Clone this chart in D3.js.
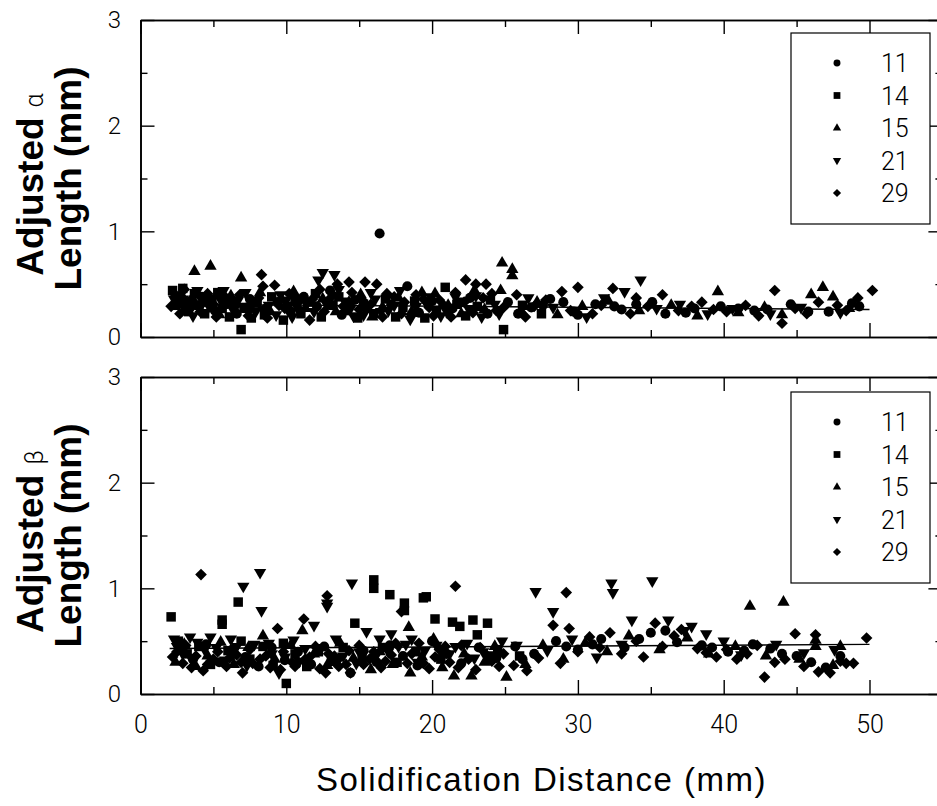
<!DOCTYPE html>
<html>
<head>
<meta charset="utf-8">
<script src="https://d3js.org/d3.v7.min.js"></script>
<style>
  body { margin: 0; background: #fff; }
  svg { display: block; }
  .tick text { font-family: Roboto, "DejaVu Sans", sans-serif; font-weight: 300; fill: #000; }
</style>
</head>
<body>
<div id="chart"></div>
<script>
// series names (legend)
const seriesNames = ['11', '14', '15', '21', '29'];

// x ticks / y ticks
const xMajor = [0, 10, 20, 30, 40, 50];
const xMinor = [5, 15, 25, 35, 45];
const yMajor = [0, 1, 2, 3];
const yMinor = [0.5, 1.5, 2.5];

// --- Adjusted alpha length, [distance, length] ---
const alpha11 = [[2.6,0.34],[3.4,0.28],[4.2,0.38],[5.1,0.25],[5.9,0.31],[6.6,0.22],[7.5,0.36],[8.6,0.27],[9.4,0.33],[10.3,0.24],[11.2,0.38],[12.1,0.29],[13.0,0.44],[13.8,0.21],[14.7,0.35],[15.5,0.27],[16.4,0.98],[17.2,0.31],[18.3,0.48],[19.1,0.23],[20.0,0.34],[21.4,0.27],[22.6,0.37],[23.8,0.22],[25.2,0.33],[25.9,0.22],[26.8,0.28],[27.6,0.30],[28.1,0.36],[29.0,0.33],[29.7,0.24],[30.0,0.21],[31.2,0.31],[32.5,0.29],[33.0,0.26],[34.0,0.31],[35.1,0.33],[36.0,0.22],[37.4,0.23],[38.0,0.27],[39.8,0.29],[41.0,0.27],[42.1,0.25],[43.0,0.26],[44.6,0.31],[45.8,0.24],[47.2,0.24],[48.8,0.32],[49.3,0.29]];
const alpha14 = [[2.2,0.44],[2.5,0.38],[2.4,0.30],[2.9,0.46],[3.1,0.33],[3.3,0.24],[3.7,0.41],[4.0,0.30],[4.4,0.22],[4.9,0.36],[5.3,0.42],[5.6,0.27],[6.1,0.19],[6.4,0.34],[6.9,0.07],[7.1,0.28],[7.6,0.18],[8.0,0.32],[8.5,0.21],[9.0,0.38],[9.8,0.16],[10.1,0.29],[10.6,0.36],[11.0,0.22],[11.5,0.33],[12.0,0.41],[12.4,0.19],[13.2,0.30],[13.6,0.38],[14.1,0.25],[14.9,0.18],[15.3,0.31],[16.0,0.22],[16.8,0.36],[17.5,0.19],[18.0,0.28],[18.8,0.34],[19.5,0.18],[20.3,0.25],[20.9,0.47],[21.7,0.31],[22.3,0.20],[23.1,0.29],[24.0,0.35],[24.9,0.07],[26.2,0.30],[27.5,0.22]];
const alpha15 = [[2.8,0.40],[3.7,0.62],[4.8,0.67],[4.5,0.32],[5.4,0.21],[6.2,0.39],[6.9,0.56],[7.3,0.26],[8.2,0.42],[8.9,0.24],[9.7,0.35],[10.5,0.43],[11.3,0.27],[12.5,0.36],[13.4,0.24],[14.3,0.33],[15.1,0.40],[15.9,0.19],[16.6,0.28],[17.7,0.37],[18.6,0.24],[19.3,0.42],[20.2,0.41],[21.1,0.30],[22.0,0.22],[22.9,0.44],[23.6,0.26],[24.7,0.44],[24.8,0.70],[25.5,0.64],[25.5,0.58],[26.1,0.25],[27.2,0.33],[28.6,0.21],[30.3,0.29],[32.1,0.34],[34.2,0.25],[36.4,0.30],[38.2,0.20],[39.6,0.43],[41.0,0.23],[42.8,0.28],[44.0,0.21],[46.0,0.40],[46.8,0.47],[47.5,0.38],[48.6,0.27]];
const alpha21 = [[2.3,0.36],[2.9,0.36],[3.0,0.27],[3.6,0.20],[3.9,0.44],[4.3,0.33],[4.7,0.29],[5.5,0.35],[5.7,0.44],[6.3,0.27],[6.7,0.35],[7.2,0.42],[7.6,0.29],[7.9,0.24],[8.4,0.26],[8.8,0.30],[9.3,0.21],[9.6,0.40],[10.0,0.35],[10.4,0.19],[10.7,0.29],[11.4,0.31],[11.9,0.24],[12.5,0.61],[12.2,0.54],[12.8,0.30],[13.3,0.59],[13.6,0.45],[14.0,0.34],[14.4,0.27],[14.6,0.20],[15.3,0.21],[15.8,0.42],[16.1,0.36],[16.5,0.24],[17.0,0.25],[17.4,0.30],[17.8,0.44],[18.5,0.17],[18.9,0.29],[19.6,0.32],[19.9,0.38],[20.6,0.20],[21.0,0.24],[21.6,0.38],[22.0,0.34],[22.5,0.27],[23.0,0.39],[23.4,0.19],[24.3,0.31],[24.6,0.22],[26.6,0.37],[28.3,0.28],[30.6,0.19],[31.8,0.37],[33.2,0.43],[34.3,0.54],[35.4,0.27],[37.0,0.31],[38.9,0.22],[40.6,0.27],[43.2,0.22],[45.3,0.28],[48.0,0.23]];
const alpha29 = [[2.1,0.29],[2.4,0.40],[2.7,0.22],[3.0,0.45],[3.5,0.36],[3.8,0.31],[4.1,0.24],[4.6,0.41],[5.0,0.31],[5.2,0.19],[5.8,0.38],[6.0,0.33],[6.5,0.29],[6.8,0.40],[7.4,0.20],[7.7,0.33],[8.1,0.37],[8.3,0.59],[8.4,0.48],[8.7,0.18],[9.2,0.49],[9.5,0.30],[9.9,0.27],[10.2,0.41],[10.8,0.33],[10.9,0.26],[11.6,0.16],[11.8,0.36],[12.3,0.45],[12.6,0.24],[12.9,0.35],[13.2,0.40],[13.5,0.50],[13.9,0.29],[14.3,0.52],[14.5,0.42],[15.0,0.26],[15.2,0.35],[15.4,0.52],[15.8,0.31],[16.2,0.50],[16.6,0.19],[16.9,0.41],[17.4,0.38],[17.9,0.22],[18.1,0.33],[18.6,0.21],[18.9,0.40],[19.4,0.36],[19.8,0.28],[20.1,0.20],[20.5,0.35],[20.8,0.30],[21.3,0.19],[21.6,0.42],[22.2,0.33],[22.3,0.54],[22.8,0.23],[23.0,0.50],[23.5,0.37],[23.7,0.50],[24.1,0.41],[24.4,0.25],[24.9,0.28],[25.8,0.40],[26.4,0.19],[27.0,0.29],[27.8,0.35],[28.9,0.43],[29.5,0.25],[30.0,0.47],[31.0,0.22],[31.6,0.30],[32.4,0.46],[33.6,0.22],[34.0,0.37],[34.8,0.29],[35.8,0.40],[36.9,0.25],[37.8,0.29],[38.5,0.33],[39.3,0.26],[40.2,0.24],[41.5,0.30],[42.4,0.20],[43.5,0.44],[44.0,0.13],[44.9,0.27],[45.7,0.22],[46.5,0.33],[47.8,0.30],[48.4,0.25],[49.2,0.37],[50.2,0.44]];
const alphaFit = [[2, 0.31], [50, 0.26]];

// --- Adjusted beta length ---
const beta11 = [[2.7,0.42],[3.6,0.33],[4.5,0.47],[5.4,0.30],[6.3,0.42],[7.2,0.35],[8.1,0.26],[9.0,0.44],[9.9,0.32],[10.8,0.40],[11.7,0.28],[12.6,0.45],[13.5,0.33],[14.4,0.20],[15.3,0.41],[16.2,0.30],[17.1,0.46],[18.0,0.36],[19.0,0.27],[20.0,0.50],[21.0,0.38],[22.0,0.29],[23.2,0.44],[24.4,0.34],[25.7,0.45],[26.2,0.33],[27.0,0.38],[28.5,0.50],[29.2,0.45],[30.0,0.42],[31.0,0.47],[31.6,0.52],[33.2,0.44],[34.2,0.52],[35.0,0.58],[36.0,0.60],[36.8,0.49],[38.5,0.46],[39.2,0.44],[40.3,0.40],[41.4,0.41],[42.0,0.47],[43.2,0.43],[44.0,0.38],[45.0,0.36],[46.0,0.30],[47.0,0.25],[48.0,0.36]];
const beta14 = [[2.1,0.73],[2.6,0.50],[3.2,0.38],[4.0,0.45],[4.8,0.28],[5.6,0.70],[5.6,0.66],[6.0,0.41],[6.7,0.87],[6.9,0.50],[7.5,0.33],[8.4,0.45],[9.1,0.27],[9.8,0.48],[10.0,0.10],[10.6,0.38],[11.4,0.26],[12.2,0.40],[13.1,0.31],[13.9,0.44],[14.7,0.67],[15.2,0.35],[16.0,1.08],[16.0,1.00],[16.6,0.44],[17.1,0.94],[17.6,0.30],[18.1,0.86],[18.1,0.79],[18.9,0.40],[19.4,0.91],[19.6,0.92],[20.2,0.71],[20.6,0.33],[21.4,0.68],[21.9,0.64],[22.8,0.70],[23.1,0.56],[23.8,0.67],[24.5,0.42],[26.0,0.36]];
const beta15 = [[2.4,0.30],[3.0,0.47],[3.8,0.26],[4.6,0.36],[5.5,0.49],[6.4,0.28],[7.4,0.44],[8.4,0.55],[9.2,0.33],[10.3,0.46],[11.1,0.60],[11.9,0.38],[12.8,0.27],[13.7,0.48],[14.6,0.34],[15.8,0.23],[16.4,0.40],[17.3,0.28],[18.4,0.63],[18.5,0.20],[19.3,0.35],[20.1,0.52],[20.7,0.25],[21.5,0.17],[22.2,0.38],[22.7,0.17],[23.6,0.30],[24.3,0.45],[25.1,0.16],[26.4,0.28],[27.6,0.46],[29.0,0.33],[30.5,0.48],[32.0,0.40],[33.5,0.55],[35.6,0.42],[37.5,0.53],[39.0,0.38],[40.8,0.45],[41.8,0.83],[42.9,0.36],[44.1,0.87],[45.2,0.33],[46.3,0.45],[46.3,0.51],[47.5,0.27],[48.0,0.45]];
const beta21 = [[2.3,0.52],[2.5,0.45],[2.9,0.38],[3.4,0.54],[3.6,0.31],[3.9,0.49],[4.4,0.42],[4.8,0.54],[5.2,0.44],[5.8,0.32],[6.2,0.52],[6.6,0.45],[7.05,1.02],[7.3,0.27],[7.8,0.47],[8.2,1.15],[8.3,0.79],[8.8,0.48],[9.0,0.38],[9.5,0.20],[9.9,0.35],[10.5,0.51],[10.9,0.31],[11.3,0.43],[11.9,0.65],[12.4,0.44],[12.8,0.86],[12.8,0.83],[13.4,0.52],[13.9,0.36],[14.5,1.05],[14.8,0.29],[15.0,0.40],[15.5,0.59],[16.1,0.35],[16.4,0.52],[17.0,0.40],[17.2,0.57],[17.7,0.45],[18.2,0.47],[18.6,0.52],[19.0,0.30],[19.5,0.41],[20.3,0.46],[20.6,0.40],[21.2,0.38],[21.6,0.45],[22.4,0.48],[22.9,0.34],[23.5,0.40],[24.2,0.37],[24.8,0.50],[25.8,0.46],[27.1,0.97],[27.9,0.41],[28.3,0.78],[29.6,0.52],[31.3,0.35],[32.3,1.05],[32.4,0.96],[33.0,0.47],[33.7,0.70],[35.1,1.07],[36.2,0.70],[37.3,0.60],[37.8,0.64],[38.8,0.57],[40.0,0.50],[41.2,0.37],[43.6,0.47],[45.5,0.39],[47.6,0.42]];
const beta29 = [[2.2,0.35],[2.5,0.40],[2.9,0.29],[3.1,0.46],[3.5,0.25],[3.8,0.36],[4.15,1.13],[4.3,0.22],[4.6,0.28],[5.0,0.33],[5.3,0.40],[5.9,0.26],[6.1,0.34],[6.6,0.37],[6.9,0.30],[7.0,0.20],[7.5,0.42],[7.7,0.29],[8.2,0.33],[8.6,0.36],[8.9,0.25],[9.4,0.62],[9.6,0.23],[9.8,0.40],[10.4,0.30],[10.6,0.26],[11.2,0.71],[11.3,0.33],[11.6,0.35],[12.0,0.45],[12.3,0.24],[12.8,0.93],[12.7,0.20],[12.9,0.38],[13.3,0.36],[13.6,0.26],[14.1,0.28],[14.3,0.41],[14.4,0.20],[15.0,0.46],[15.3,0.28],[15.7,0.33],[16.0,0.40],[16.5,0.25],[16.8,0.31],[17.2,0.37],[17.5,0.48],[17.9,0.78],[18.3,0.29],[18.6,0.38],[19.1,0.48],[19.4,0.29],[19.8,0.24],[20.2,0.35],[20.5,0.42],[20.9,0.45],[21.6,1.02],[21.2,0.30],[21.8,0.25],[22.0,0.46],[22.5,0.33],[23.0,0.23],[23.3,0.44],[23.8,0.36],[24.1,0.31],[24.6,0.26],[24.9,0.38],[25.6,0.27],[26.5,0.22],[27.3,0.34],[28.3,0.65],[28.8,0.29],[29.2,0.96],[29.4,0.62],[30.0,0.40],[30.8,0.54],[31.5,0.44],[32.2,0.58],[33.0,0.38],[34.0,0.50],[34.5,0.35],[35.3,0.67],[35.8,0.45],[36.6,0.55],[37.1,0.61],[38.2,0.43],[38.8,0.39],[39.5,0.35],[40.2,0.42],[40.9,0.33],[41.6,0.38],[42.3,0.46],[42.8,0.16],[43.5,0.30],[44.2,0.33],[44.9,0.57],[45.5,0.26],[46.3,0.56],[46.5,0.21],[47.3,0.20],[48.0,0.31],[48.4,0.29],[48.9,0.29],[49.8,0.53]];
const betaFit = [[2, 0.43], [50, 0.47]];

// chart setup
const width = 937, height = 806;
const left = 140.5, right = 942.4;

const svg = d3.select('#chart').append('svg')
  .attr('width', width)
  .attr('height', height)
  .style('background', '#fff');

const x = d3.scaleLinear().domain([0, 55]).range([left, right]);

// marker shapes per series
const shapes = {
  '11': { type: d3.symbolCircle, size: 80, legend: 38, rot: 0 },
  '14': { type: d3.symbolSquare, size: 90, legend: 46, rot: 0 },
  '15': { type: d3.symbolTriangle, size: 66, legend: 30, rot: 0 },
  '21': { type: d3.symbolTriangle, size: 66, legend: 30, rot: 180 },
  '29': { type: d3.symbolSquare, size: 68, legend: 34, rot: 45 }
};

const panels = [
  { top: 20, bottom: 337, letter: '\u03b1', legendTop: 33,
    series: [alpha11, alpha14, alpha15, alpha21, alpha29], fit: alphaFit, labels: false },
  { top: 377, bottom: 694, letter: '\u03b2', legendTop: 392,
    series: [beta11, beta14, beta15, beta21, beta29], fit: betaFit, labels: true }
];

panels.forEach(p => {
  const y = d3.scaleLinear().domain([0, 3]).range([p.bottom, p.top]);
  const g = svg.append('g');

  // fit line
  g.append('path')
    .datum(p.fit)
    .attr('d', d3.line().x(d => x(d[0])).y(d => y(d[1])))
    .attr('fill', 'none')
    .attr('stroke', '#000')
    .attr('stroke-width', 1.4);

  // points
  p.series.forEach((data, i) => {
    const s = shapes[seriesNames[i]];
    g.append('g').selectAll('path')
      .data(data)
      .enter()
      .append('path')
      .attr('d', d3.symbol().type(s.type).size(s.size))
      .attr('transform', d => `translate(${x(d[0])},${y(d[1])}) rotate(${s.rot})`)
      .attr('fill', '#000');
  });

  // axes - ticks point inward
  const axisStyle = sel => {
    sel.select('.domain').attr('stroke', '#000').attr('stroke-width', 1.6);
    sel.selectAll('.tick line').attr('stroke', '#000').attr('stroke-width', 1.4);
  };

  g.append('g').attr('transform', `translate(0,${p.bottom})`)
    .call(d3.axisBottom(x).tickValues(xMajor).tickSize(-14).tickSizeOuter(0).tickPadding(21)
      .tickFormat(p.labels ? d3.format('d') : ''))
    .call(axisStyle)
    .selectAll('text').style('font-size', '25px');
  g.append('g').attr('transform', `translate(0,${p.bottom})`)
    .call(d3.axisBottom(x).tickValues(xMinor).tickSize(-7).tickSizeOuter(0).tickFormat(''))
    .call(axisStyle);
  g.append('g').attr('transform', `translate(0,${p.top})`)
    .call(d3.axisTop(x).tickValues(xMajor).tickSize(-14).tickSizeOuter(0).tickFormat(''))
    .call(axisStyle);
  g.append('g').attr('transform', `translate(0,${p.top})`)
    .call(d3.axisTop(x).tickValues(xMinor).tickSize(-7).tickSizeOuter(0).tickFormat(''))
    .call(axisStyle);

  g.append('g').attr('transform', `translate(${left},0)`)
    .call(d3.axisLeft(y).tickValues(yMajor).tickSize(-14).tickSizeOuter(0).tickPadding(19.5)
      .tickFormat(d3.format('d')))
    .call(axisStyle)
    .selectAll('text').style('font-size', '24px');
  g.append('g').attr('transform', `translate(${left},0)`)
    .call(d3.axisLeft(y).tickValues(yMinor).tickSize(-7).tickSizeOuter(0).tickFormat(''))
    .call(axisStyle);
  g.append('g').attr('transform', `translate(${right},0)`)
    .call(d3.axisRight(y).tickValues(yMajor).tickSize(-14).tickSizeOuter(0).tickFormat(''))
    .call(axisStyle);
  g.append('g').attr('transform', `translate(${right},0)`)
    .call(d3.axisRight(y).tickValues(yMinor).tickSize(-7).tickSizeOuter(0).tickFormat(''))
    .call(axisStyle);

  // legend box
  const lg = g.append('g').attr('transform', `translate(791,${p.legendTop})`);
  lg.append('rect')
    .attr('width', 139).attr('height', 191)
    .attr('fill', '#fff').attr('stroke', '#000').attr('stroke-width', 1.2);
  seriesNames.forEach((name, i) => {
    const s = shapes[name];
    const ly = 30 + i * 32.5;
    lg.append('path')
      .attr('d', d3.symbol().type(s.type).size(s.legend))
      .attr('transform', `translate(46,${ly}) rotate(${s.rot})`)
      .attr('fill', '#000');
    lg.append('text')
      .attr('x', 90).attr('y', ly + 9)
      .style('font-family', 'Roboto, "DejaVu Sans", sans-serif')
      .style('font-weight', 300)
      .style('font-size', '25px')
      .text(name);
  });

  // y title, two lines
  const cy = (p.top + p.bottom) / 2;
  const t1 = svg.append('text')
    .attr('transform', `translate(43,${cy + 6}) rotate(-90)`)
    .attr('text-anchor', 'middle')
    .style('font-family', '"Liberation Sans", Arial, sans-serif')
    .style('font-weight', 'bold')
    .style('font-size', '37px');
  t1.append('tspan').text('Adjusted');
  t1.append('tspan')
    .attr('dx', 10)
    .style('font-weight', 300)
    .style('font-family', 'Roboto, "DejaVu Sans", sans-serif')
    .style('font-size', '25px')
    .text(p.letter);
  svg.append('text')
    .attr('transform', `translate(81,${cy}) rotate(-90)`)
    .attr('text-anchor', 'middle')
    .style('font-family', '"Liberation Sans", Arial, sans-serif')
    .style('font-weight', 'bold')
    .style('font-size', '37px')
    .text('Length (mm)');
});

// x title
svg.append('text')
  .attr('x', (left + right) / 2)
  .attr('y', 791)
  .attr('text-anchor', 'middle')
  .style('font-family', '"Liberation Sans", Arial, sans-serif')
  .style('font-size', '33px')
  .style('letter-spacing', '1.5px')
  .text('Solidification Distance (mm)');
</script>
</body>
</html>
